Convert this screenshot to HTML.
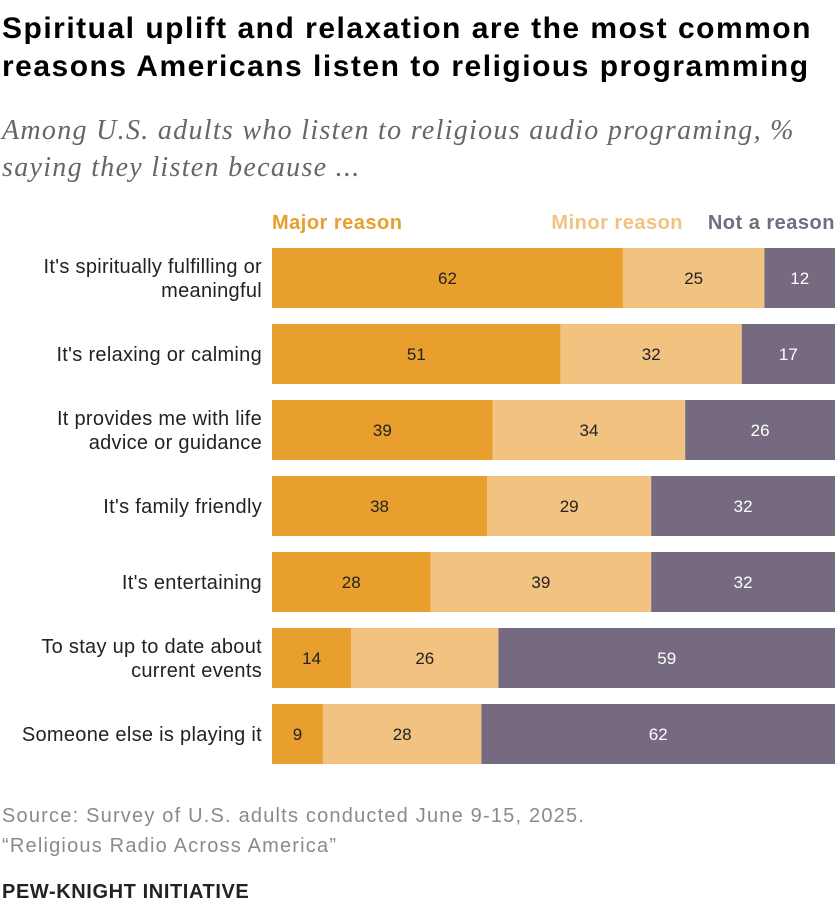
<!DOCTYPE html>
<html><head><meta charset="utf-8">
<style>
body{margin:0;background:#fff;font-family:"Liberation Sans",sans-serif;}
#wrap{position:relative;width:839px;height:919px;overflow:hidden;}
.t{position:absolute;white-space:nowrap;}
</style></head>
<body>
<div id="wrap">
<div class="t" style="left:2px;top:10px;font-size:30px;font-weight:bold;color:#000;line-height:38px;letter-spacing:1.5px">Spiritual uplift and relaxation are the most common<br>reasons Americans listen to religious programming</div>
<div class="t" style="left:2px;top:112px;font-family:'Liberation Serif',serif;font-style:italic;font-size:28px;color:#666;line-height:37px;letter-spacing:1.3px">Among U.S. adults who listen to religious audio programing, %<br>saying they listen because ...</div>
<svg id="svg" width="839" height="919" style="position:absolute;left:0;top:0"></svg>
<div class="t" style="left:2px;top:801px;font-size:20px;color:#8a8a8a;line-height:30px;letter-spacing:1.2px">Source: Survey of U.S. adults conducted June 9-15, 2025.<br>“Religious Radio Across America”</div>
<div class="t" style="left:2px;top:881px;font-size:20px;font-weight:bold;color:#222;letter-spacing:0.6px">PEW-KNIGHT INITIATIVE</div>
</div>
<script>
const categories=[["It's spiritually fulfilling or","meaningful"],["It's relaxing or calming"],["It provides me with life","advice or guidance"],["It's family friendly"],["It's entertaining"],["To stay up to date about","current events"],["Someone else is playing it"]];
const major=[62,51,39,38,28,14,9];
const minor=[25,32,34,29,39,26,28];
const notReason=[12,17,26,32,32,59,62];
const seriesNames=["Major reason","Minor reason","Not a reason"];
const colors=["#E99F2E","#F2C380","#756A7F"];
const textColors=["#222","#222","#fff"];
const svg=document.getElementById('svg');
const NS='http://www.w3.org/2000/svg';
const x0=272,xEnd=835,unit=5.66,rowTop=248,pitch=76,bh=60;
const xs=v=>v*unit;
function mk(tag,attrs){const e=document.createElementNS(NS,tag);for(const k in attrs)e.setAttribute(k,attrs[k]);svg.appendChild(e);return e;}
let t=mk('text',{x:272,y:229,'font-size':20,'font-weight':'bold',fill:colors[0],'letter-spacing':0.5});t.textContent=seriesNames[0];


t=mk('text',{x:835,y:229,'font-size':20,'font-weight':'bold',fill:colors[2],'text-anchor':'end','letter-spacing':0.5});t.textContent=seriesNames[2];


t=mk('text',{x:683,y:229,'font-size':20,'font-weight':'bold',fill:colors[1],'text-anchor':'end','letter-spacing':0.5});t.textContent=seriesNames[1];


const series=[major,minor,notReason];
categories.forEach((c,i)=>{
  const y=rowTop+i*pitch;let x=x0;
  series.forEach((s,j)=>{
    let w=xs(s[i]);
    if(j===2||x+w>xEnd) w=Math.max(0,xEnd-x);
    const r=mk('rect',{x:x,y:y,width:w,height:bh,fill:colors[j]});
    
    
    const tx=mk('text',{x:x+w/2,y:y+bh/2+6,'font-size':17,fill:textColors[j],'text-anchor':'middle'});
    tx.textContent=s[i];
    
    
    x+=w;
  });
  const lines=c;const cy=y+bh/2;
  lines.forEach((ln,k)=>{
    const ty=cy+7+(k-(lines.length-1)/2)*24;
    const lt=mk('text',{x:262,y:ty,'font-size':20,fill:'#222','text-anchor':'end','letter-spacing':0.3});
    lt.textContent=ln;
    
    
  });
});
</script>
</body></html>
